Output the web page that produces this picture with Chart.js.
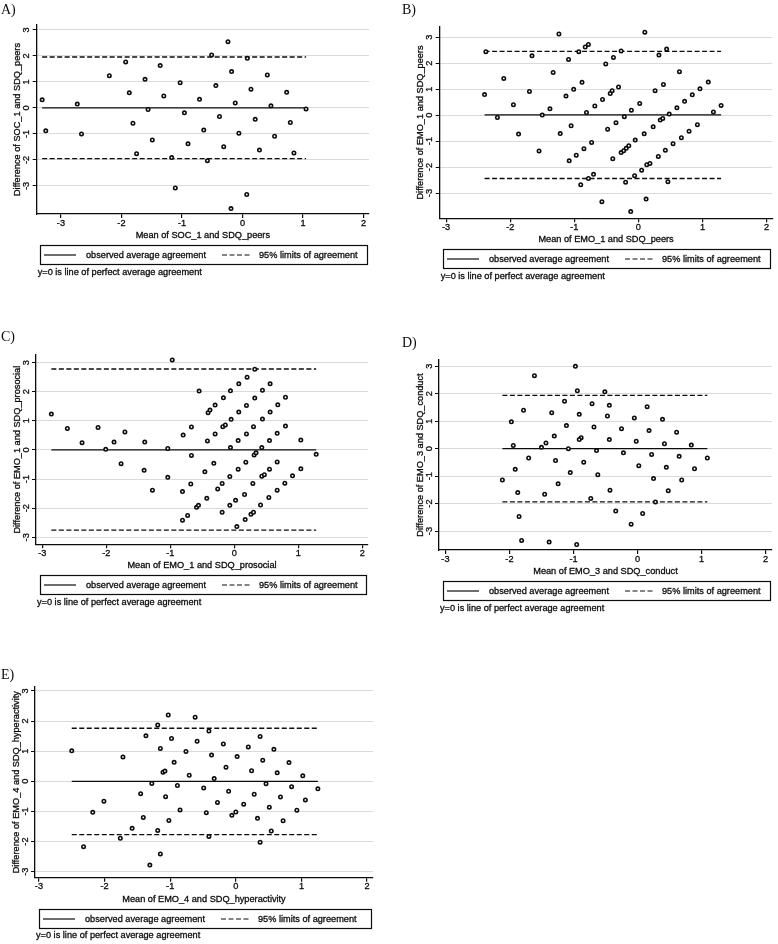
<!DOCTYPE html>
<html>
<head>
<meta charset="utf-8">
<script src="https://cdn.jsdelivr.net/npm/chart.js@4.4.1/dist/chart.umd.min.js"></script>
<style>
  html, body { margin: 0; padding: 0; background: #fff; }
  #page { position: relative; width: 778px; height: 944px; overflow: hidden; }
  #page canvas { position: absolute; }
</style>
</head>
<body>
<div id="page"></div>
<script>
// tick labels shared by all five panels
const xTicks = [-3, -2, -1, 0, 1, 2];
const yTicks = [-3, -2, -1, 0, 1, 2, 3];

// A) SOC_1 and SDQ_peers
const meanA = [-3.31, -3.25, -2.73, -2.66, -2.20, -1.93, -1.87, -1.81, -1.75, -1.61, -1.56, -1.49, -1.36, -1.30,
  -1.17, -1.11, -1.03, -0.96, -0.90, -0.71, -0.64, -0.58, -0.51, -0.44, -0.38, -0.31, -0.24, -0.18, -0.19,
  -0.12, -0.06, 0.08, 0.07, 0.14, 0.21, 0.28, 0.41, 0.47, 0.53, 0.73, 0.79, 0.85, 1.05];
const diffA = [0.31, -0.88, 0.15, -1.00, 1.24, 1.77, 0.58, -0.59, -1.76, 1.10, -0.06, -1.23, 1.63, 0.46,
  -1.91, -3.08, 0.97, -0.19, -1.38, 0.33, -0.85, -2.03, 2.04, 0.86, -0.33, -1.49, 2.55, 1.40, -3.87,
  0.19, -0.97, 1.91, -3.33, 0.72, -0.44, -1.62, 1.27, 0.08, -1.09, 0.60, -0.56, -1.73, -0.04];
const loaA = [-1.95, 0, 1.96];            // lower limit, mean difference, upper limit
const xRangeA = [-3.40, 2.09];
const yRangeA = [-4.08, 3.19];

// B) EMO_1 and SDQ_peers
const meanB = [-2.40, -2.38, -2.20, -2.10, -1.95, -1.87, -1.70, -1.66, -1.55, -1.50, -1.38, -1.33, -1.24, -1.22,
  -1.13, -1.09, -1.08, -1.05, -1.01, -0.97, -0.93, -0.90, -0.88, -0.85, -0.83, -0.81, -0.78, -0.78, -0.73,
  -0.70, -0.68, -0.57, -0.56, -0.51, -0.48, -0.44, -0.41, -0.40, -0.39, -0.35, -0.31, -0.27, -0.27, -0.23,
  -0.22, -0.19, -0.20, -0.15, -0.12, -0.11, -0.06, -0.05, 0.02, 0.05, 0.09, 0.10, 0.13, 0.12, 0.18, 0.23,
  0.26, 0.31, 0.32, 0.34, 0.38, 0.39, 0.42, 0.44, 0.46, 0.48, 0.54, 0.60, 0.64, 0.67, 0.72, 0.79, 0.84,
  0.92, 0.96, 1.09, 1.17, 1.29];
const diffB = [0.79, 2.44, -0.09, 1.41, 0.40, -0.73, 0.91, 2.28, -1.38, 0.00, 0.24, 1.64, 3.12, -0.71,
  0.73, 2.14, -1.76, -0.41, 0.99, -1.54, 2.44, -2.68, 1.26, -1.29, 2.62, 0.10, 2.72, -2.44, -1.05,
  -2.28, 0.35, -3.33, 0.60, 1.97, -0.54, 0.83, 0.94, -1.68, 2.22, -0.29, 1.08, 2.47, -1.44, -1.37,
  -0.06, -1.28, -2.58, -1.18, -3.71, 0.19, -2.33, -0.96, 0.45, -2.12, -0.72, 3.19, -1.91, -3.23, -1.86, -0.45,
  0.94, -1.59, 2.31, -0.19, -0.13, 1.18, -1.35, 2.54, -2.56, 0.04, -1.10, 0.28, 1.67, -0.87, 0.53, -0.62, 0.78,
  -0.37, 1.01, 1.27, 0.12, 0.37];
const loaB = [-2.44, 0.01, 2.45];
const xRangeB = [-3.10, 2.09];
const yRangeB = [-3.97, 3.40];

// C) EMO_1 and SDQ_prosocial
const meanC = [-2.86, -2.61, -2.38, -2.13, -2.01, -1.88, -1.77, -1.71, -1.40, -1.41, -1.28, -1.04, -1.04, -0.97,
  -0.81, -0.81, -0.80, -0.73, -0.68, -0.67, -0.67, -0.55, -0.59, -0.56, -0.46, -0.43, -0.41, -0.38, -0.42,
  -0.32, -0.30, -0.30, -0.26, -0.19, -0.19, -0.18, -0.17, -0.14, -0.07, -0.07, -0.06, -0.06, -0.05, 0.02,
  0.04, 0.06, 0.06, 0.07, 0.07, 0.16, 0.18, 0.19, 0.19, 0.20, 0.17, 0.26, 0.29, 0.30, 0.30, 0.32, 0.32,
  0.31, 0.34, 0.41, 0.43, 0.43, 0.44, 0.44, 0.47, 0.54, 0.55, 0.55, 0.56, 0.56, 0.67, 0.67, 0.67, 0.68,
  0.79, 0.80, 0.80, 0.91, 1.04, 1.04, 1.28];
const diffC = [1.23, 0.74, 0.25, 0.77, 0.02, 0.27, -0.47, 0.62, 0.27, -0.70, -1.38, -0.94, 0.05, 3.09,
  -1.43, -2.41, 0.51, -2.25, -1.17, 0.79, -0.19, 2.02, -1.97, -1.90, -0.75, -1.66, 1.28, 1.37, 0.31,
  -0.46, 1.54, 0.55, -1.34, -2.14, -1.15, 0.80, 1.79, 0.86, -1.90, -0.91, 0.08, 2.03, 1.05, -1.73,
  -2.63, -0.66, 0.32, 1.30, 2.27, -1.53, -0.42, 0.55, 1.53, 2.50, -2.39, -2.21, -1.15, -2.14, 0.80, 1.78, 2.77,
  -0.17, -0.10, -1.89, -0.90, 0.08, 1.06, 2.05, -0.85, -1.63, -0.66, 0.32, 1.30, 2.27, -1.38, -0.41, 0.57, 1.55,
  -1.14, 0.82, 1.81, -0.89, -0.65, 0.34, -0.15];
const loaC = [-2.75, 0, 2.78];
const xRangeC = [-3.10, 2.09];
const yRangeC = [-3.24, 3.26];

// D) EMO_3 and SDQ_conduct
const meanD = [-0.97, -1.61, -0.94, -0.51, -1.14, -1.78, -0.71, -0.44, 0.15, -1.97, -1.34, -0.91, -0.47, -0.05,
  0.39, -1.11, -0.68, -0.25, 0.18, 0.61, -1.94, -1.30, -1.43, -1.50, -0.88, -0.91, -0.44, -0.02, 0.42, 0.84,
  -1.08, -1.70, -0.64, -0.22, 0.22, 0.65, 1.09, -1.28, -0.84, -1.91, 0.02, 0.45, 0.89, -1.05, -0.62, -2.11,
  -1.24, 0.25, 0.69, -0.43, 0.48, -1.87, -1.45, -0.73, 0.28, -0.34, 0.08, -1.85, -0.10, -1.81, -1.38, -0.95];
const diffD = [3.00, 2.66, 2.11, 2.07, 1.73, 1.40, 1.64, 1.58, 1.53, 0.98, 1.31, 1.25, 1.19, 1.12,
  1.07, 0.84, 0.79, 0.73, 0.66, 0.60, 0.12, 0.46, 0.21, 0.05, 0.40, 0.33, 0.33, 0.27, 0.18, 0.13,
  0.00, -0.34, -0.07, -0.15, -0.21, -0.28, -0.34, -0.43, -0.49, -0.75, -0.62, -0.68, -0.73, -0.87, -0.95, -1.14,
  -1.28, -1.09, -1.14, -1.51, -1.53, -1.60, -1.66, -1.81, -1.94, -2.27, -2.36, -2.47, -2.75, -3.34, -3.40, -3.49];
const loaD = [-1.94, 0, 1.94];
const xRangeD = [-3.10, 2.10];
const yRangeD = [-3.69, 3.23];

// E) EMO_4 and SDQ_hyperactivity
const meanE = [-2.50, -2.32, -2.18, -2.01, -1.76, -1.72, -1.58, -1.45, -1.41, -1.37, -1.31, -1.28, -1.19, -1.19,
  -1.15, -1.15, -1.11, -1.08, -1.07, -1.03, -1.02, -0.98, -0.94, -0.89, -0.85, -0.76, -0.71, -0.62, -0.59,
  -0.49, -0.45, -0.41, -0.41, -0.37, -0.33, -0.28, -0.19, -0.15, -0.11, -0.06, 0.00, 0.02, 0.12, 0.19, 0.24,
  0.28, 0.33, 0.37, 0.37, 0.41, 0.46, 0.51, 0.54, 0.58, 0.63, 0.68, 0.72, 0.81, 0.85, 0.93, 1.02, 1.06, 1.25];
const diffE = [1.01, -2.17, -1.03, -0.66, -1.89, 0.81, -1.56, -0.41, -1.20, 1.51, -2.78, -0.07, 1.87, -1.63,
  1.09, -2.41, 0.30, 0.34, -0.51, 2.20, -1.30, 1.42, 0.63, -0.14, -0.95, 0.99, 0.20, 2.13, 1.33,
  -0.22, -1.04, 1.67, -1.83, 0.87, 0.09, -0.70, 1.24, 0.47, -0.33, -1.13, -1.02, 0.82, -0.76, 1.14, 0.35,
  -0.43, -1.23, 1.49, -2.02, 0.70, -0.08, -0.86, -1.65, 1.06, 0.28, -0.52, -1.31, 0.62, -0.18, -0.96, 0.18, -0.62, -0.25];
const loaE = [-1.77, 0, 1.76];
const xRangeE = [-3.06, 2.09];
const yRangeE = [-3.20, 3.14];

const INK = '#0c0c0c';
const FONT = '9.2px "Liberation Sans", Arial, sans-serif';
const DASH = [5, 2.5];

// box = canvas on the page, area = plot region on the page, tagAt = where "A)" sits
const panels = [
  { tag: 'A', mean: meanA, diff: diffA, loa: loaA, xRange: xRangeA, yRange: yRangeA,
    xTitle: 'Mean of SOC_1 and SDQ_peers', yTitle: 'Difference of SOC_1 and SDQ_peers',
    box: { left: 0, top: 0, w: 389, h: 292 }, area: { left: 36.7, top: 25, right: 369, bottom: 214 }, tagAt: [1, 13.5] },
  { tag: 'B', mean: meanB, diff: diffB, loa: loaB, xRange: xRangeB, yRange: yRangeB,
    xTitle: 'Mean of EMO_1 and SDQ_peers', yTitle: 'Difference of EMO_1 and SDQ_peers',
    box: { left: 389, top: 0, w: 389, h: 292 }, area: { left: 439.7, top: 26.7, right: 774, bottom: 218.3 }, tagAt: [402, 13.5] },
  { tag: 'C', mean: meanC, diff: diffC, loa: loaC, xRange: xRangeC, yRange: yRangeC,
    xTitle: 'Mean of EMO_1 and SDQ_prosocial', yTitle: 'Difference of EMO_1 and SDQ_prosocial',
    box: { left: 0, top: 300, w: 389, h: 318 }, area: { left: 36, top: 355, right: 368, bottom: 544.3 }, tagAt: [1, 341] },
  { tag: 'D', mean: meanD, diff: diffD, loa: loaD, xRange: xRangeD, yRange: yRangeD,
    xTitle: 'Mean of EMO_3 and SDQ_conduct', yTitle: 'Difference of EMO_3 and SDQ_conduct',
    box: { left: 389, top: 300, w: 389, h: 318 }, area: { left: 439, top: 360, right: 772, bottom: 550 }, tagAt: [402, 347] },
  { tag: 'E', mean: meanE, diff: diffE, loa: loaE, xRange: xRangeE, yRange: yRangeE,
    xTitle: 'Mean of EMO_4 and SDQ_hyperactivity', yTitle: 'Difference of EMO_4 and SDQ_hyperactivity',
    box: { left: 0, top: 620, w: 389, h: 324 }, area: { left: 35, top: 686.7, right: 373, bottom: 877.7 }, tagAt: [1, 679] }
];

// the scanned figure has heavy text, so fill and then stroke very lightly
function heavyText(ctx, s, x, y) {
  ctx.fillText(s, x, y);
  ctx.strokeText(s, x, y);
}

// Stata-style texts: vertical y labels, axis titles, legend box, note and panel tag
const stataText = {
  id: 'stataText',
  afterDraw(chart, args, o) {
    const { ctx, chartArea: a, scales: { x, y } } = chart;
    ctx.save();
    ctx.fillStyle = INK;
    ctx.strokeStyle = INK;
    ctx.font = FONT;
    ctx.lineWidth = 0.3;

    ctx.textAlign = 'center';
    ctx.textBaseline = 'alphabetic';
    yTicks.forEach(v => {
      ctx.save();
      ctx.translate(a.left - 7.5, y.getPixelForValue(v));
      ctx.rotate(-Math.PI / 2);
      heavyText(ctx, String(v), 0, 0);
      ctx.restore();
    });

    ctx.textBaseline = 'middle';
    xTicks.forEach(v => heavyText(ctx, String(v), x.getPixelForValue(v), a.bottom + 9));
    heavyText(ctx, o.xTitle, (a.left + a.right) / 2, a.bottom + 21.5);

    ctx.save();
    ctx.translate(a.left - 16.5, (a.top + a.bottom) / 2);
    ctx.rotate(-Math.PI / 2);
    ctx.textBaseline = 'alphabetic';
    heavyText(ctx, o.yTitle, 0, 0);
    ctx.restore();

    // legend
    const bx = Math.round(a.left + 3.5), by = Math.round(a.bottom + 31);
    const bw = Math.round(a.right - 2 - bx), bh = 19;
    ctx.lineWidth = 1.2;
    ctx.strokeRect(bx + 0.5, by + 0.5, bw, bh);
    const cy = by + bh / 2 + 0.5;
    ctx.beginPath(); ctx.moveTo(bx + 4, cy); ctx.lineTo(bx + 36, cy); ctx.stroke();
    ctx.setLineDash(DASH);
    ctx.beginPath(); ctx.moveTo(bx + 182, cy); ctx.lineTo(bx + 211, cy); ctx.stroke();
    ctx.setLineDash([]);
    ctx.lineWidth = 0.3;
    ctx.textAlign = 'left';
    heavyText(ctx, 'observed average agreement', bx + 46, cy);
    heavyText(ctx, '95% limits of agreement', bx + 219, cy);

    heavyText(ctx, 'y=0 is line of perfect average agreement', a.left + 1, a.bottom + 58);

    ctx.font = '14px "Liberation Serif", "Times New Roman", serif';
    ctx.textBaseline = 'alphabetic';
    ctx.fillText(o.tag + ')', o.tagX, o.tagY);
    ctx.restore();
  }
};

const page = document.getElementById('page');

panels.forEach(p => {
  const cv = document.createElement('canvas');
  cv.width = p.box.w;
  cv.height = p.box.h;
  cv.style.left = p.box.left + 'px';
  cv.style.top = p.box.top + 'px';
  page.appendChild(cv);

  const xMin = Math.min(...p.mean), xMax = Math.max(...p.mean);
  const refLine = (val, dash) => ({
    type: 'line',
    data: [{ x: xMin, y: val }, { x: xMax, y: val }],
    borderColor: INK, borderWidth: 1.3, borderDash: dash,
    pointRadius: 0, fill: false, order: 2
  });

  new Chart(cv, {
    type: 'scatter',
    data: {
      datasets: [
        {
          data: p.mean.map((m, i) => ({ x: m, y: p.diff[i] })),
          pointRadius: 1.7, borderWidth: 1.6, borderColor: INK,
          backgroundColor: '#ffffff', order: 1
        },
        refLine(p.loa[1], []),
        refLine(p.loa[0], DASH),
        refLine(p.loa[2], DASH)
      ]
    },
    options: {
      responsive: false,
      animation: false,
      devicePixelRatio: 1,
      layout: {
        padding: { left: 0, bottom: 0, top: p.area.top - p.box.top, right: p.box.left + p.box.w - p.area.right }
      },
      plugins: {
        legend: { display: false },
        tooltip: { enabled: false },
        stataText: {
          xTitle: p.xTitle, yTitle: p.yTitle, tag: p.tag,
          tagX: p.tagAt[0] - p.box.left, tagY: p.tagAt[1] - p.box.top
        }
      },
      scales: {
        x: {
          type: 'linear', min: p.xRange[0], max: p.xRange[1],
          afterBuildTicks: s => { s.ticks = xTicks.map(v => ({ value: v })); },
          afterFit: s => { s.height = p.box.top + p.box.h - p.area.bottom; },
          ticks: { display: false },
          grid: { drawOnChartArea: false, drawTicks: true, tickLength: 4, tickColor: INK, lineWidth: 1.2 },
          border: { color: INK, width: 1.3 }
        },
        y: {
          type: 'linear', min: p.yRange[0], max: p.yRange[1],
          afterBuildTicks: s => { s.ticks = yTicks.map(v => ({ value: v })); },
          afterFit: s => { s.width = p.area.left - p.box.left; },
          ticks: { display: false },
          grid: { color: '#dadada', lineWidth: 1, drawTicks: true, tickLength: 4, tickColor: INK },
          border: { color: INK, width: 1.3 }
        }
      }
    },
    plugins: [stataText]
  });
});
</script>
</body>
</html>
